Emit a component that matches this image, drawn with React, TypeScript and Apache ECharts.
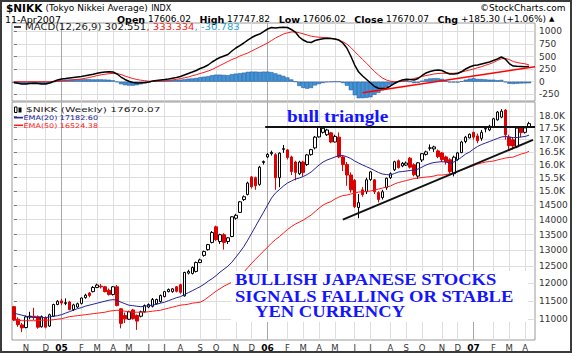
import React, { useEffect, useRef } from "react";
import * as echarts from "echarts";

// ---- weekly OHLC (Nikkei 225, weeks starting Mon 11-Oct-2004) ----
const opens = [11340,11000,10850,10780,11060,11080,11070,10800,11040,10820,11080,11400,11500,11430,11470,11260,11330,11430,11590,11720,
11760,11880,11920,11900,11800,11680,11900,11280,11100,11000,11250,11100,11080,11200,11330,11350,11420,11480,11620,11760,
11760,11900,11960,11640,12300,12290,12350,12620,12840,13020,13250,13760,13280,13500,13280,13440,14050,14250,14700,14880,
15530,15500,15250,16080,16300,16430,16390,15500,16600,16580,16300,16100,15650,16100,16000,16390,16660,17110,17300,17200,
17280,16900,17100,16300,16000,15600,15400,14420,15050,14980,15430,15420,14950,14770,15130,15500,15800,16150,15950,15980,
16250,15990,15560,16180,16400,16650,16620,16540,16460,16300,16190,15650,16200,16470,16920,17070,17300,17150,17050,17440,
17400,17530,17830,17950,18260,17100,16990,16700,17480,17300,17540];
const highs = [11360,11050,10900,11100,11200,11310,11100,11100,11080,11150,11420,11520,11560,11570,11500,11420,11450,11600,11700,11750,
11920,11990,11980,11920,11850,11920,11950,11300,11180,11230,11280,11130,11230,11400,11430,11580,11560,11680,11780,11850,
11860,11920,11990,12340,12400,12500,12650,12740,12990,13200,13620,13800,13530,13550,13420,14120,14200,14650,14850,15350,
15560,15540,15950,16160,16450,16550,16450,16480,16780,16620,16350,16150,16150,16150,16420,16620,17150,17570,17560,17450,
17320,17200,17300,16350,16100,15700,15450,14900,15150,15500,15750,15450,15000,15050,15500,15700,16150,16200,16100,16120,
16300,16050,16100,16450,16550,16800,16750,16600,16500,16350,16250,16350,16500,16950,17150,17250,17320,17250,17400,17550,
17620,17920,18220,18300,18300,17200,17100,17520,17550,17520,17748];
const lows = [10950,10800,10660,10760,11000,10980,10750,10780,10760,10800,11060,11380,11380,11380,11240,11220,11300,11400,11560,11600,
11740,11860,11850,11740,11650,11650,11350,10760,10900,10980,10990,10720,11050,11180,11300,11320,11400,11450,11600,11740,
11730,11740,11700,11620,12260,12260,12320,12600,12800,12990,13220,13300,13200,13020,13200,13420,14000,14230,14650,14850,
15100,15050,15200,16000,16250,16350,15050,15150,16460,16200,15600,15400,15600,15550,15950,16350,16600,17080,17250,17150,
16850,16880,16250,15750,15200,14950,14400,14050,14800,14900,15380,14900,14600,14700,15050,15450,15750,15850,15900,15950,
15850,15550,15450,16100,16350,16550,16500,16250,16100,16000,15650,15550,16150,16450,16850,17050,17000,16850,16950,17300,
17350,17500,17800,17900,17000,16530,16600,16650,17100,17250,17480];
const closes = [10982,10857,10771,11062,11082,11050,10790,11070,10790,11120,11400,11488,11440,11450,11260,11390,11420,11580,11660,11650,
11880,11950,11900,11760,11680,11900,11370,10890,11010,11200,11020,10950,11200,11370,11400,11540,11540,11650,11760,11820,
11840,11770,11740,12320,12350,12470,12620,12700,12960,13180,13570,13340,13500,13250,13400,14100,14150,14620,14800,15300,
15160,15200,15900,16120,16400,16480,15500,16450,16630,16280,15730,15700,16100,15700,16380,16590,17100,17530,17470,17400,
16900,17130,16300,16000,15600,15050,14450,14590,14880,15420,15720,14980,14700,14980,15480,15650,16110,15880,16050,16060,
15900,15610,16070,16430,16500,16660,16700,16310,16190,16110,15730,16290,16460,16900,17100,17220,17100,16950,17300,17460,
17560,17880,18170,18210,17200,16750,16740,17480,17290,17490,17670];

// ---- moving averages ----
const ema20 = [11160,11135,11108,11081,11060,11050,11045,11040,11045,11060,11081,11095,11122,11162,11203,11243,11285,11312,11353,11381,
11408,11436,11464,11492,11520,11534,11520,11464,11422,11381,11367,11353,11339,11353,11367,11381,11408,11436,11464,11506,
11547,11589,11617,11673,11731,11787,11845,11903,11975,12062,12136,12225,12329,12418,12509,12631,12786,12942,13115,13324,
13552,13784,14021,14260,14504,14753,14933,15061,15189,15300,15374,15449,15487,15543,15619,15714,15848,15983,16099,16178,
16236,16295,16355,16355,16307,16236,16138,16060,15983,15917,15848,15771,15695,15639,15619,15600,15657,15714,15733,15752,
15771,15790,15829,15905,15983,16041,16080,16099,16111,16099,16060,16099,16178,16295,16414,16494,16615,16716,16797,16858,
16919,16982,17045,17107,17127,17107,17078,17086,17107,17127,17182.6];
const ema50 = [10974,10974,10960,10960,10960,10960,10960,10974,10974,10974,10987,11001,11014,11041,11068,11081,11095,11108,11122,11135,
11149,11162,11176,11189,11216,11230,11243,11230,11216,11203,11189,11189,11189,11189,11203,11216,11230,11243,11271,11298,
11326,11353,11381,11394,11408,11436,11450,11464,11520,11603,11687,11773,11845,11917,11975,12033,12121,12225,12329,12464,
12600,12724,12848,12973,13099,13227,13341,13438,13552,13668,13767,13851,13918,13986,14072,14157,14278,14399,14504,14575,
14628,14718,14789,14843,14861,14897,14933,14969,14980,14995,15006,15042,15079,15115,15152,15189,15263,15318,15355,15393,
15430,15468,15487,15506,15524,15535,15562,15600,15600,15619,15638,15676,15733,15790,15848,15905,15963,16022,16060,16099,
16119,16138,16178,16217,16256,16276,16295,16355,16414,16454,16524.38];

// ---- MACD(12,26,9) ----
const macdLine = [-20,-32,-46,-46,-36,-32,-36,-46,-46,-26,4,34,54,63,73,83,93,103,117,133,
147,167,183,192,198,192,153,93,44,10,-16,-26,-22,-16,-6,14,24,34,42,54,
69,83,103,133,163,192,222,262,292,331,391,440,480,510,540,609,669,718,768,827,
877,917,946,996,1046,1075,1065,1075,1079,1075,1036,986,887,827,788,778,817,837,851,861,
857,847,827,768,669,510,331,192,113,44,-26,-95,-131,-135,-131,-85,-36,4,34,48,
44,34,63,123,173,202,222,232,222,183,153,153,163,202,252,292,321,331,351,371,
391,421,450,490,450,361,311,306,302,298,302.551];
const signalLine = [0,0,0,0,0,0,0,0,0,0,4,4,14,20,30,38,44,54,67,83,
101,121,137,149,159,165,161,143,113,87,63,44,30,20,10,4,8,14,20,26,
34,46,62,77,93,117,139,163,186,212,242,282,321,361,401,440,470,510,540,569,
609,649,688,728,768,817,867,907,946,970,986,986,972,950,927,903,891,883,877,871,
861,847,827,794,748,679,599,520,440,365,282,202,133,73,34,10,0,4,10,24,
44,63,83,103,123,137,153,163,167,167,167,167,179,192,212,232,252,276,298,325,
351,381,421,454,460,440,401,381,365,355,333.334];
const macdHist = [-20,-32,-46,-46,-36,-32,-36,-46,-46,-26,0,30,40,43,43,45,49,49,50,50,
46,46,46,43,39,27,-8,-50,-69,-77,-79,-70,-52,-36,-16,10,16,20,22,28,
35,37,41,50,60,65,75,90,100,110,130,140,140,135,130,150,160,170,180,195,
200,200,195,200,200,190,165,140,115,85,45,0,-85,-123,-139,-125,-74,-46,-26,-10,
-4,0,0,-26,-79,-169,-268,-328,-327,-321,-308,-260,-220,-170,-110,-60,-36,0,24,24,
0,-29,-20,20,50,65,69,69,55,16,-14,-14,-16,10,40,60,69,55,53,46,
40,40,29,36,-10,-40,-45,-40,-35,-33,-30.783];

const priceTicks = [11000,11500,12000,12500,13000,13500,14000,14500,15000,15500,16000,16500,17000,17500,18000];
const macdTicks = [-250,0,250,500,750,1000];
const MONTHS = ["J","F","M","A","M","J","J","A","S","O","N","D"];

// week categories (Mondays)
const weeks: Date[] = [];
for (let i = 0; i < 132; i++) weeks.push(new Date(Date.UTC(2004, 9, 11 + 7 * i)));
const monthStarts: number[] = [];
for (let i = 1; i < weeks.length; i++) {
  if (weeks[i].getUTCMonth() !== weeks[i - 1].getUTCMonth()) monthStarts.push(i);
}

const FONT = "DejaVu Sans";

function buildOption() {
  const vColors = monthStarts.map((i) => (weeks[i].getUTCMonth() === 0 ? "#a8a8a8" : "#dedede"));
  const monthFmt = (v: number) => {
    const d = weeks[Math.round(v)];
    const m = d.getUTCMonth();
    return m === 0 ? `{y|${String(d.getUTCFullYear()).slice(2)}}` : `{m|${MONTHS[m]}}`;
  };
  const xBase = (grid: number, labels: boolean) => ({
    type: "value",
    gridIndex: grid,
    min: -0.5,
    max: 131.5,
    axisLine: { show: false },
    axisTick: { show: false, customValues: monthStarts },
    axisLabel: labels
      ? {
          show: true,
          customValues: monthStarts,
          formatter: monthFmt,
          margin: 3,
          rich: {
            m: { fontFamily: FONT, fontSize: 8.5, color: "#333" },
            y: { fontFamily: FONT, fontSize: 9, fontWeight: "bold", color: "#000" },
          },
        }
      : { show: false },
    splitLine: { show: true, lineStyle: { color: vColors, width: 1 } },
  });

  const idx = (arr: number[]) => arr.map((v, i) => [i, v]);
  const noLineOpts = { silent: true, symbol: ["none", "none"], label: { show: false }, emphasis: { disabled: true } };

  return {
    animation: false,
    backgroundColor: "#ffffff",
    textStyle: { fontFamily: FONT },
    grid: [
      { left: 12, right: 41, top: 23, height: 78, show: true, borderColor: "#9a9a9a", borderWidth: 1, backgroundColor: "#fff" },
      { left: 12, right: 41, top: 102, height: 238, show: true, borderColor: "#9a9a9a", borderWidth: 1, backgroundColor: "#fff" },
    ],
    xAxis: [xBase(0, false), xBase(1, true)],
    yAxis: [
      {
        type: "value",
        gridIndex: 0,
        position: "right",
        min: -383,
        max: 1165,
        axisLine: { show: false },
        axisTick: { show: true, length: 3, customValues: macdTicks, lineStyle: { color: "#777" } },
        axisLabel: { customValues: macdTicks, margin: 4, fontSize: 9, color: "#333", fontFamily: FONT, formatter: (v: number) => String(v) },
        splitLine: { show: true, lineStyle: { color: "#dedede" } },
      },
      {
        type: "log",
        gridIndex: 1,
        position: "right",
        min: 10460,
        max: 18620,
        axisLine: { show: false },
        axisTick: { show: true, length: 3, customValues: priceTicks, lineStyle: { color: "#777" } },
        axisLabel: {
          customValues: priceTicks,
          margin: 4,
          fontSize: 9,
          color: "#333",
          fontFamily: FONT,
          formatter: (v: number) => (v >= 15000 ? (v / 1000).toFixed(1) + "K" : String(v)),
        },
        splitLine: { show: true, lineStyle: { color: "#dedede" } },
      },
    ],
    series: [
      {
        type: "bar",
        name: "Histogram",
        xAxisIndex: 0,
        yAxisIndex: 0,
        data: idx(macdHist),
        barWidth: 4,
        itemStyle: { color: "#3f95d9", borderColor: "#1b4f95", borderWidth: 0.5 },
        silent: true,
      },
      {
        type: "line",
        name: "Signal",
        xAxisIndex: 0,
        yAxisIndex: 0,
        data: idx(signalLine),
        showSymbol: false,
        symbol: "none",
        lineStyle: { color: "#ff1a1a", width: 1 },
        silent: true,
        markLine: {
          ...noLineOpts,
          lineStyle: { color: "#ff0000", width: 1.6, type: "solid" },
          data: [[{ coord: [88, -218] }, { coord: [131.5, 298] }]],
        },
      },
      {
        type: "line",
        name: "MACD",
        xAxisIndex: 0,
        yAxisIndex: 0,
        data: idx(macdLine),
        showSymbol: false,
        symbol: "none",
        lineStyle: { color: "#000", width: 1.5 },
        silent: true,
      },
      {
        type: "line",
        name: "EMA(50)",
        xAxisIndex: 1,
        yAxisIndex: 1,
        data: idx(ema50),
        showSymbol: false,
        symbol: "none",
        lineStyle: { color: "#ff1a1a", width: 1 },
        silent: true,
      },
      {
        type: "line",
        name: "EMA(20)",
        xAxisIndex: 1,
        yAxisIndex: 1,
        data: idx(ema20),
        showSymbol: false,
        symbol: "none",
        lineStyle: { color: "#22229a", width: 1 },
        silent: true,
      },
      {
        type: "candlestick",
        name: "$NIKK",
        xAxisIndex: 1,
        yAxisIndex: 1,
        data: opens.map((o, i) => [i, o, closes[i], lows[i], highs[i]]),
        encode: { x: 0, y: [1, 2, 3, 4] },
        barWidth: 3,
        itemStyle: { color: "#ffffff", color0: "#dd0000", borderColor: "#000000", borderColor0: "#dd0000", borderWidth: 1 },
        silent: true,
        markLine: {
          ...noLineOpts,
          lineStyle: { color: "#111", width: 2, type: "solid" },
          data: [
            [{ coord: [63.4, 17540] }, { coord: [131.5, 17540] }],
            [{ coord: [83, 14000] }, { coord: [131, 16990] }],
          ],
        },
      },
    ],
    graphic: [
      // header
      {
        type: "text", x: 6, y: 8, z: 100, silent: true,
        style: {
          text: "{a|$NIKK} {b|(Tokyo Nikkei Average)} {c|INDX}",
          verticalAlign: "middle",
          rich: {
            a: { fontFamily: FONT, fontSize: 10.5, fontWeight: "bold", fill: "#000" },
            b: { fontFamily: FONT, fontSize: 9, fill: "#000" },
            c: { fontFamily: FONT, fontSize: 8, fill: "#000" },
          },
        },
      },
      {
        type: "text", x: 480, y: 8, z: 100, silent: true,
        style: { text: "©StockCharts.com", font: `9px '${FONT}'`, fill: "#000000", verticalAlign: "middle" },
      },
      {
        type: "text", x: 5, y: 19, z: 100, silent: true,
        style: { text: "11-Apr2007", font: `9.5px '${FONT}'`, fill: "#000", verticalAlign: "middle" },
      },
      {
        type: "text", x: 117, y: 19, z: 100, silent: true,
        style: {
          text: "{l|Open} {v|17606.02}   {l|High} {v|17747.82}   {l|Low} {v|17606.02}   {l|Close} {v|17670.07}   {l|Chg} {v|+185.30 (+1.06%)} {t|▲}",
          verticalAlign: "middle",
          font: `9px '${FONT}'`,
          rich: {
            l: { fontFamily: FONT, fontSize: 9.5, fontWeight: "bold", fill: "#000" },
            v: { fontFamily: FONT, fontSize: 9, fill: "#000" },
            t: { fontFamily: FONT, fontSize: 7, fill: "#000" },
          },
        },
      },
      // MACD legend
      { type: "line", z: 100, silent: true, shape: { x1: 14, y1: 27, x2: 21, y2: 27 }, style: { stroke: "#000", lineWidth: 1.5 } },
      {
        type: "text", x: 25, y: 27, z: 100, scaleX: 1.12, scaleY: 0.9, silent: true,
        style: {
          text: "{k|MACD(12,26,9) 302.551}{r|, 333.334}{c|, -30.783}",
          verticalAlign: "middle",
          rich: {
            k: { fontFamily: FONT, fontSize: 9, fill: "#222" },
            r: { fontFamily: FONT, fontSize: 9, fill: "#ff2020" },
            c: { fontFamily: FONT, fontSize: 9, fill: "#2aa4d0" },
          },
        },
      },
      // price legend
      { type: "rect", z: 100, silent: true, shape: { x: 14.5, y: 107, width: 2.5, height: 5.5 }, style: { fill: "#fff", stroke: "#000", lineWidth: 1 } },
      { type: "rect", z: 100, silent: true, shape: { x: 18.5, y: 107.5, width: 3, height: 5 }, style: { fill: "#000" } },
      {
        type: "text", x: 26, y: 109.6, z: 100, scaleX: 1.17, scaleY: 0.82, silent: true,
        style: { text: "$NIKK (Weekly) 17670.07", font: `9px '${FONT}'`, fill: "#222", verticalAlign: "middle" },
      },
      { type: "line", z: 100, silent: true, shape: { x1: 14, y1: 117.7, x2: 23, y2: 117.7 }, style: { stroke: "#22229a", lineWidth: 1.5 } },
      {
        type: "text", x: 23.5, y: 117.7, z: 100, scaleY: 0.8, silent: true,
        style: { text: "EMA(20) 17182.60", font: `8px '${FONT}'`, fill: "#22229a", verticalAlign: "middle" },
      },
      { type: "line", z: 100, silent: true, shape: { x1: 14, y1: 125.3, x2: 23, y2: 125.3 }, style: { stroke: "#ff1a1a", lineWidth: 1.5 } },
      {
        type: "text", x: 23.5, y: 125.3, z: 100, scaleY: 0.8, silent: true,
        style: { text: "EMA(50) 16524.38", font: `8px '${FONT}'`, fill: "#ff1a1a", verticalAlign: "middle" },
      },
      // annotations
      {
        type: "text", x: 287, y: 116, z: 100, scaleX: 1.17, silent: true,
        style: { text: "bull triangle", font: `bold 16.5px 'Liberation Serif'`, fill: "#1414ff", verticalAlign: "middle" },
      },
      { type: "rect", z: 90, silent: true, shape: { x: 231, y: 271, width: 297, height: 51 }, style: { fill: "#ffffff" } },
      {
        type: "text", x: 235, y: 279.5, z: 100, scaleX: 1.05, silent: true,
        style: { text: "BULLISH JAPANESE STOCKS", font: `bold 17.7px 'Liberation Serif'`, fill: "#1414ff", verticalAlign: "middle" },
      },
      {
        type: "text", x: 235, y: 296.5, z: 100, scaleX: 1.05, silent: true,
        style: { text: "SIGNALS FALLING OR STABLE", font: `bold 17.7px 'Liberation Serif'`, fill: "#1414ff", verticalAlign: "middle" },
      },
      {
        type: "text", x: 255, y: 311.5, z: 100, scaleX: 1.05, silent: true,
        style: { text: "YEN CURRENCY", font: `bold 17.7px 'Liberation Serif'`, fill: "#1414ff", verticalAlign: "middle" },
      },
      // outer frame
      { type: "rect", z: 110, silent: true, shape: { x: 1, y: 1, width: 570, height: 351 }, style: { fill: "none", stroke: "#3a3a3a", lineWidth: 2 } },
    ],
  };
}

export default function App() {
  const ref = useRef<HTMLDivElement>(null);
  useEffect(() => {
    document.body.style.margin = "0";
    if (!ref.current) return;
    const chart = echarts.init(ref.current, null, { renderer: "svg" });
    chart.setOption(buildOption() as any);
    return () => chart.dispose();
  }, []);
  return <div ref={ref} style={{ width: 576, height: 356 }} />;
}
